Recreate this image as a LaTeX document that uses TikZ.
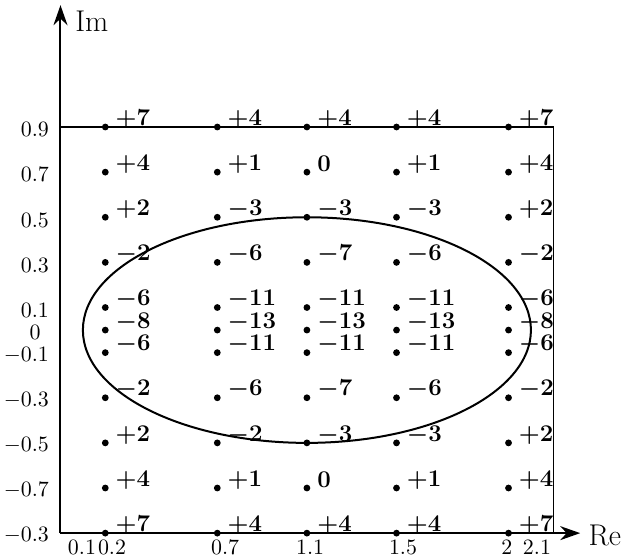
\documentclass[tikz,border=0pt]{standalone}
\usepackage{amsmath}
\usetikzlibrary{arrows.meta,calc}

\tikzset{
  dot/.style={circle,fill=black,inner sep=0pt,minimum size=3.4pt},
  val/.style={anchor=west,inner sep=0pt,font=\fontsize{11.5}{13}\selectfont\boldmath},
  tick/.style={inner sep=0pt,font=\fontsize{11}{13}\selectfont},
  axis/.style={line width=1pt,-{Stealth[length=10pt,width=7pt]}},
}

\begin{document}
\begin{tikzpicture}[x=112pt,y=112.8pt]
  \useasboundingbox (-0.27,-1.002) rectangle (2.511,1.463);

  % axes and frame
  \coordinate (O) at (0,-0.9);
  \coordinate (imtip) at (0,1.44);
  \coordinate (retip) at (2.32,-0.9);
  \draw[axis] (O) -- (imtip);
  \draw[axis] (O) -- (retip);
  \draw[line width=0.8pt] (0,0.9) -- (2.2,0.9) -- (2.2,-0.9);
  \node (im) at (0.14,1.37) {\fontsize{15}{17}\selectfont Im};
  \node (re) at (2.43,-0.91) {\fontsize{15}{17}\selectfont Re};

  % the ellipse
  \draw[line width=1pt] (1.1,0) ellipse [x radius=1, y radius=0.5];

  % values at the grid points
  \foreach \y/\vals [count=\r] in {
      0.9/{+7,+4,+4,+4,+7}, 0.7/{+4,+1,0,+1,+4}, 0.5/{+2,-3,-3,-3,+2},
      0.3/{-2,-6,-7,-6,-2}, 0.1/{-6,-11,-11,-11,-6}, 0/{-8,-13,-13,-13,-8},
      -0.1/{-6,-11,-11,-11,-6}, -0.3/{-2,-6,-7,-6,-2}, -0.5/{+2,-2,-3,-3,+2},
      -0.7/{+4,+1,0,+1,+4}, -0.9/{+7,+4,+4,+4,+7}}
  {
    \foreach \v [count=\c] in \vals {
      \pgfmathsetmacro\xx{{0.2,0.7,1.1,1.5,2}[\c-1]}
      \node[dot] (p\r-\c) at (\xx,\y) {};
      \node[val] (v\r-\c) at ($(p\r-\c)+(5pt,4pt)$) {$\v$};
    }
  }

  % labels on the Im axis
  \foreach \t/\y [count=\i] in {0.9/0.9, 0.7/0.7, 0.5/0.5, 0.3/0.3, 0.1/0.1,
      -0.1/-0.1, -0.3/-0.3, -0.5/-0.5, -0.7/-0.7, -0.3/-0.9}
    \node[tick,anchor=east] (ty\i) at (-0.05,\y-0.012) {$\t$};
  \node[tick,anchor=east] (ty0) at (-0.087,-0.01) {$0$};

  % labels on the Re axis
  \foreach \t/\x [count=\i] in {0.1/0.096, 0.2/0.23, 0.7/0.735, 1.1/1.114,
      1.5/1.529, 2/1.993, 2.1/2.127}
    \node[tick] (tx\i) at (\x,-0.962) {$\t$};

\end{tikzpicture}
\end{document}
